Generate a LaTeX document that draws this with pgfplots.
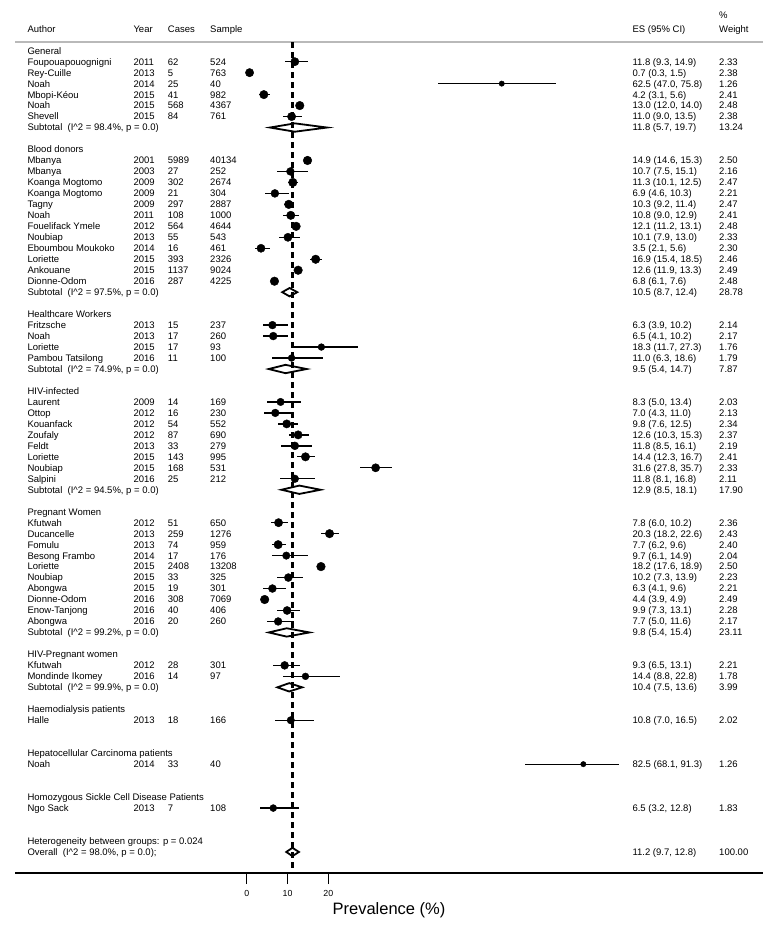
\documentclass[border=0pt]{standalone}
\usepackage{pgfplots}
\pgfplotsset{compat=1.18}
\usepackage{pgfplotstable}
\usepackage{fontspec}
\setmainfont{Liberation Sans}

\pgfplotstableread{
row es lo hi w
1 11.8 9.3 14.9 2.33
2 0.7 0.3 1.5 2.38
3 62.5 47.0 75.8 1.26
4 4.2 3.1 5.6 2.41
5 13.0 12.0 14.0 2.48
6 11.0 9.0 13.5 2.38
10 14.9 14.6 15.3 2.50
11 10.7 7.5 15.1 2.16
12 11.3 10.1 12.5 2.47
13 6.9 4.6 10.3 2.21
14 10.3 9.2 11.4 2.47
15 10.8 9.0 12.9 2.41
16 12.1 11.2 13.1 2.48
17 10.1 7.9 13.0 2.33
18 3.5 2.1 5.6 2.30
19 16.9 15.4 18.5 2.46
20 12.6 11.9 13.3 2.49
21 6.8 6.1 7.6 2.48
25 6.3 3.9 10.2 2.14
26 6.5 4.1 10.2 2.17
27 18.3 11.7 27.3 1.76
28 11.0 6.3 18.6 1.79
32 8.3 5.0 13.4 2.03
33 7.0 4.3 11.0 2.13
34 9.8 7.6 12.5 2.34
35 12.6 10.3 15.3 2.37
36 11.8 8.5 16.1 2.19
37 14.4 12.3 16.7 2.41
38 31.6 27.8 35.7 2.33
39 11.8 8.1 16.8 2.11
43 7.8 6.0 10.2 2.36
44 20.3 18.2 22.6 2.43
45 7.7 6.2 9.6 2.40
46 9.7 6.1 14.9 2.04
47 18.2 17.6 18.9 2.50
48 10.2 7.3 13.9 2.23
49 6.3 4.1 9.6 2.21
50 4.4 3.9 4.9 2.49
51 9.9 7.3 13.1 2.28
52 7.7 5.0 11.6 2.17
56 9.3 6.5 13.1 2.21
57 14.4 8.8 22.8 1.78
61 10.8 7.0 16.5 2.02
65 82.5 68.1 91.3 1.26
69 6.5 3.2 12.8 1.83
}\studies

\tikzset{lab/.style={anchor=base west, inner sep=0pt, yshift=-3.4pt, font=\fontsize{9.5}{11}\selectfont}}
\newcommand\R[7]{%
 \node[lab] at (axis cs:-53.77,-#1) {#2};
 \node[lab] at (axis cs:-27.79,-#1) {#3};
 \node[lab] at (axis cs:-19.36,-#1) {#4};
 \node[lab] at (axis cs:-8.99,-#1) {#5};
 \node[lab] at (axis cs:94.51,-#1) {#6};
 \node[lab] at (axis cs:115.76,-#1) {#7};
}
\newcommand\Hd[2]{\node[lab] at (axis cs:-53.77,-#1) {#2};}
\newcommand\Sub[4]{%
 \node[lab] at (axis cs:-53.77,-#1) {#2};
 \node[lab] at (axis cs:94.51,-#1) {#3};
 \node[lab] at (axis cs:115.76,-#1) {#4};
}
\newcommand\Isq[1]{Subtotal\ \ (I\textasciicircum2 = #1\%, p = 0.0)}

\begin{document}
\begin{tikzpicture}
\begin{axis}[
  scale only axis, width=748pt, height=873pt,
  xmin=-56.789, xmax=126.544, ymin=-74.92, ymax=4.62,
  axis x line*=bottom, axis y line=none,
  x axis line style={line width=1.3pt},
  xtick={0,10,20}, xticklabels={0,10,20},
  tick align=outside, major tick length=11pt,
  tick style={line width=1.3pt, black},
  xticklabel style={font=\fontsize{8.8}{10}\selectfont, yshift=-2.5pt},
  xlabel={Prevalence (\%)},
  xlabel style={font=\fontsize{16.5}{18}\selectfont, yshift=1pt},
  clip=false,
]
% bounding box
\path (axis cs:-60.466,4.62) rectangle (axis cs:130.956,-80.20);
% top rule
\addplot[gray!55, line width=1.3pt] coordinates {(-56.789,0.79) (126.544,0.79)};

% diamonds
\addplot[fill=white, draw=black, line width=1.8pt] coordinates {(5.7,-7) (11.8,-6.62) (19.7,-7) (11.8,-7.38)} -- cycle;
\addplot[fill=white, draw=black, line width=1.8pt] coordinates {(8.7,-22) (10.5,-21.62) (12.4,-22) (10.5,-22.38)} -- cycle;
\addplot[fill=white, draw=black, line width=1.8pt] coordinates {(5.4,-29) (9.5,-28.62) (14.7,-29) (9.5,-29.38)} -- cycle;
\addplot[fill=white, draw=black, line width=1.8pt] coordinates {(8.5,-40) (12.9,-39.62) (18.1,-40) (12.9,-40.38)} -- cycle;
\addplot[fill=white, draw=black, line width=1.8pt] coordinates {(5.4,-53) (9.8,-52.62) (15.4,-53) (9.8,-53.38)} -- cycle;
\addplot[fill=white, draw=black, line width=1.8pt] coordinates {(7.5,-58) (10.4,-57.62) (13.6,-58) (10.4,-58.38)} -- cycle;
\addplot[fill=white, draw=black, line width=1.8pt] coordinates {(9.7,-73) (11.2,-72.62) (12.8,-73) (11.2,-73.38)} -- cycle;

% overall line
\addplot[black, line width=2.2pt, dash pattern=on 6pt off 4pt] coordinates {(11.2,0.79) (11.2,-74.92)};

% studies
\addplot[scatter, only marks, mark=*,
  scatter/use mapped color={draw=black, fill=black},
  visualization depends on={2.3*pow(\thisrow{w},0.69) \as \rad},
  scatter/@pre marker code/.append style={/tikz/mark size=\rad},
  error bars/.cd, x dir=both, x explicit, error mark=none,
  error bar style={line width=1.3pt, black}]
  table[x=es, y expr=-\thisrow{row},
        x error plus expr=\thisrow{hi}-\thisrow{es},
        x error minus expr=\thisrow{es}-\thisrow{lo}] {\studies};

% header
\node[lab] at (axis cs:-53.77,2) {Author};
\node[lab] at (axis cs:-27.79,2) {Year};
\node[lab] at (axis cs:-19.36,2) {Cases};
\node[lab] at (axis cs:-8.99,2) {Sample};
\node[lab] at (axis cs:94.51,2) {ES (95\% CI)};
\node[lab] at (axis cs:115.76,2) {Weight};
\node[lab] at (axis cs:115.76,3.2) {\%};

\Hd{0}{General}
\R{1}{Foupouapouognigni}{2011}{62}{524}{11.8 (9.3, 14.9)}{2.33}
\R{2}{Rey-Cuille}{2013}{5}{763}{0.7 (0.3, 1.5)}{2.38}
\R{3}{Noah}{2014}{25}{40}{62.5 (47.0, 75.8)}{1.26}
\R{4}{Mbopi-Kéou}{2015}{41}{982}{4.2 (3.1, 5.6)}{2.41}
\R{5}{Noah}{2015}{568}{4367}{13.0 (12.0, 14.0)}{2.48}
\R{6}{Shevell}{2015}{84}{761}{11.0 (9.0, 13.5)}{2.38}
\Sub{7}{\Isq{98.4}}{11.8 (5.7, 19.7)}{13.24}

\Hd{9}{Blood donors}
\R{10}{Mbanya}{2001}{5989}{40134}{14.9 (14.6, 15.3)}{2.50}
\R{11}{Mbanya}{2003}{27}{252}{10.7 (7.5, 15.1)}{2.16}
\R{12}{Koanga Mogtomo}{2009}{302}{2674}{11.3 (10.1, 12.5)}{2.47}
\R{13}{Koanga Mogtomo}{2009}{21}{304}{6.9 (4.6, 10.3)}{2.21}
\R{14}{Tagny}{2009}{297}{2887}{10.3 (9.2, 11.4)}{2.47}
\R{15}{Noah}{2011}{108}{1000}{10.8 (9.0, 12.9)}{2.41}
\R{16}{Fouelifack Ymele}{2012}{564}{4644}{12.1 (11.2, 13.1)}{2.48}
\R{17}{Noubiap}{2013}{55}{543}{10.1 (7.9, 13.0)}{2.33}
\R{18}{Eboumbou Moukoko}{2014}{16}{461}{3.5 (2.1, 5.6)}{2.30}
\R{19}{Loriette}{2015}{393}{2326}{16.9 (15.4, 18.5)}{2.46}
\R{20}{Ankouane}{2015}{1137}{9024}{12.6 (11.9, 13.3)}{2.49}
\R{21}{Dionne-Odom}{2016}{287}{4225}{6.8 (6.1, 7.6)}{2.48}
\Sub{22}{\Isq{97.5}}{10.5 (8.7, 12.4)}{28.78}

\Hd{24}{Healthcare Workers}
\R{25}{Fritzsche}{2013}{15}{237}{6.3 (3.9, 10.2)}{2.14}
\R{26}{Noah}{2013}{17}{260}{6.5 (4.1, 10.2)}{2.17}
\R{27}{Loriette}{2015}{17}{93}{18.3 (11.7, 27.3)}{1.76}
\R{28}{Pambou Tatsilong}{2016}{11}{100}{11.0 (6.3, 18.6)}{1.79}
\Sub{29}{\Isq{74.9}}{9.5 (5.4, 14.7)}{7.87}

\Hd{31}{HIV-infected}
\R{32}{Laurent}{2009}{14}{169}{8.3 (5.0, 13.4)}{2.03}
\R{33}{Ottop}{2012}{16}{230}{7.0 (4.3, 11.0)}{2.13}
\R{34}{Kouanfack}{2012}{54}{552}{9.8 (7.6, 12.5)}{2.34}
\R{35}{Zoufaly}{2012}{87}{690}{12.6 (10.3, 15.3)}{2.37}
\R{36}{Feldt}{2013}{33}{279}{11.8 (8.5, 16.1)}{2.19}
\R{37}{Loriette}{2015}{143}{995}{14.4 (12.3, 16.7)}{2.41}
\R{38}{Noubiap}{2015}{168}{531}{31.6 (27.8, 35.7)}{2.33}
\R{39}{Salpini}{2016}{25}{212}{11.8 (8.1, 16.8)}{2.11}
\Sub{40}{\Isq{94.5}}{12.9 (8.5, 18.1)}{17.90}

\Hd{42}{Pregnant Women}
\R{43}{Kfutwah}{2012}{51}{650}{7.8 (6.0, 10.2)}{2.36}
\R{44}{Ducancelle}{2013}{259}{1276}{20.3 (18.2, 22.6)}{2.43}
\R{45}{Fomulu}{2013}{74}{959}{7.7 (6.2, 9.6)}{2.40}
\R{46}{Besong Frambo}{2014}{17}{176}{9.7 (6.1, 14.9)}{2.04}
\R{47}{Loriette}{2015}{2408}{13208}{18.2 (17.6, 18.9)}{2.50}
\R{48}{Noubiap}{2015}{33}{325}{10.2 (7.3, 13.9)}{2.23}
\R{49}{Abongwa}{2015}{19}{301}{6.3 (4.1, 9.6)}{2.21}
\R{50}{Dionne-Odom}{2016}{308}{7069}{4.4 (3.9, 4.9)}{2.49}
\R{51}{Enow-Tanjong}{2016}{40}{406}{9.9 (7.3, 13.1)}{2.28}
\R{52}{Abongwa}{2016}{20}{260}{7.7 (5.0, 11.6)}{2.17}
\Sub{53}{\Isq{99.2}}{9.8 (5.4, 15.4)}{23.11}

\Hd{55}{HIV-Pregnant women}
\R{56}{Kfutwah}{2012}{28}{301}{9.3 (6.5, 13.1)}{2.21}
\R{57}{Mondinde Ikomey}{2016}{14}{97}{14.4 (8.8, 22.8)}{1.78}
\Sub{58}{\Isq{99.9}}{10.4 (7.5, 13.6)}{3.99}

\Hd{60}{Haemodialysis patients}
\R{61}{Halle}{2013}{18}{166}{10.8 (7.0, 16.5)}{2.02}

\Hd{64}{Hepatocellular Carcinoma patients}
\R{65}{Noah}{2014}{33}{40}{82.5 (68.1, 91.3)}{1.26}

\Hd{68}{Homozygous Sickle Cell Disease Patients}
\R{69}{Ngo Sack}{2013}{7}{108}{6.5 (3.2, 12.8)}{1.83}

\Hd{72}{Heterogeneity between groups: p = 0.024}
\Sub{73}{Overall\ \ (I\textasciicircum2 = 98.0\%, p = 0.0);}{11.2 (9.7, 12.8)}{100.00}
\end{axis}
\end{tikzpicture}
\end{document}
